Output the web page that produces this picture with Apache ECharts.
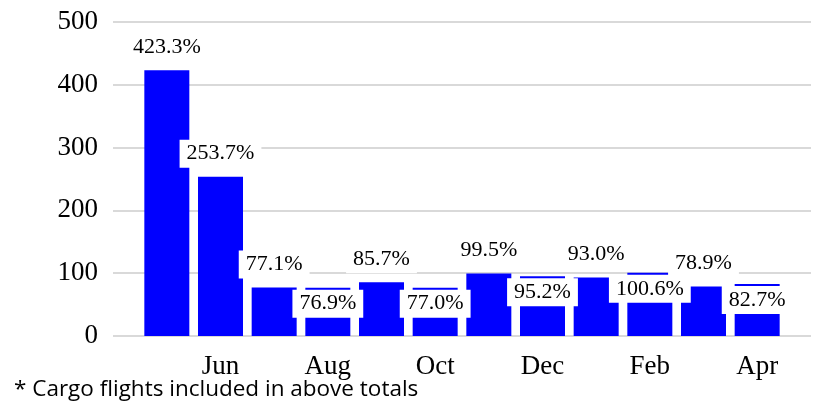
<!DOCTYPE html>
<html>
<head>
<meta charset="utf-8">
<script src="https://cdn.jsdelivr.net/npm/echarts@6/dist/echarts.min.js"></script>
<style>
  html, body { margin: 0; padding: 0; background: #fff; }
  #chart { width: 816px; height: 402px; }
</style>
</head>
<body>
<div id="chart"></div>
<script>
const months = ['May', 'Jun', 'Jul', 'Aug', 'Sep', 'Oct', 'Nov', 'Dec', 'Jan', 'Feb', 'Mar', 'Apr'];
const values = [423.3, 253.7, 77.1, 76.9, 85.7, 77.0, 99.5, 95.2, 93.0, 100.6, 78.9, 82.7];
const yTicks = [0, 100, 200, 300, 400, 500];
const footnote = '* Cargo flights included in above totals';

const serif = '"Liberation Serif", "DejaVu Serif", serif';

// labels alternate: above the bar, then tucked just inside its top
function labelFor(index) {
  const inside = index >= 3 && index % 2 === 1;
  return {
    show: true,
    position: inside ? 'insideTop' : 'top',
    distance: inside ? 2 : 9,
    formatter: (p) => p.value.toFixed(1) + '%',
    fontFamily: serif,
    fontSize: 22,
    color: '#000',
    backgroundColor: '#fff',
    padding: [3, 7, 3, 7],
  };
}

const chart = echarts.init(document.getElementById('chart'));
chart.setOption({
  animation: false,
  backgroundColor: '#fff',
  title: {
    text: footnote,
    left: 9,
    top: 373,
    textStyle: { fontFamily: '"Open Sans", "Noto Sans", sans-serif', fontSize: 22.5, fontWeight: 'normal', color: '#000' },
  },
  grid: [
    { left: 113, right: 5, top: 22, height: 314 },
    { left: 140, right: 32, top: 22, height: 314 },
  ],
  xAxis: [
    { gridIndex: 0, type: 'category', data: months, show: false },
    {
      gridIndex: 1,
      type: 'category',
      data: months,
      axisLine: { show: false },
      axisTick: { show: false },
      axisLabel: {
        interval: (index) => index % 2 === 1,
        margin: 17,
        fontFamily: serif,
        fontSize: 27,
        color: '#000',
      },
    },
  ],
  yAxis: [
    {
      gridIndex: 0,
      type: 'value',
      min: yTicks[0],
      max: yTicks[yTicks.length - 1],
      interval: 100,
      axisLine: { show: false },
      axisTick: { show: false },
      axisLabel: { margin: 15, fontFamily: serif, fontSize: 27, color: '#000' },
      splitLine: { lineStyle: { color: '#d9d9d9', width: 2 } },
    },
    {
      gridIndex: 1,
      type: 'value',
      min: yTicks[0],
      max: yTicks[yTicks.length - 1],
      interval: 100,
      show: false,
      splitLine: { show: false },
    },
  ],
  series: [
    {
      type: 'bar',
      xAxisIndex: 1,
      yAxisIndex: 1,
      barWidth: 45,
      itemStyle: { color: '#0000ff' },
      data: values.map((v, i) => ({ value: v, label: labelFor(i) })),
      z: 3,
    },
  ],
});
</script>
</body>
</html>
